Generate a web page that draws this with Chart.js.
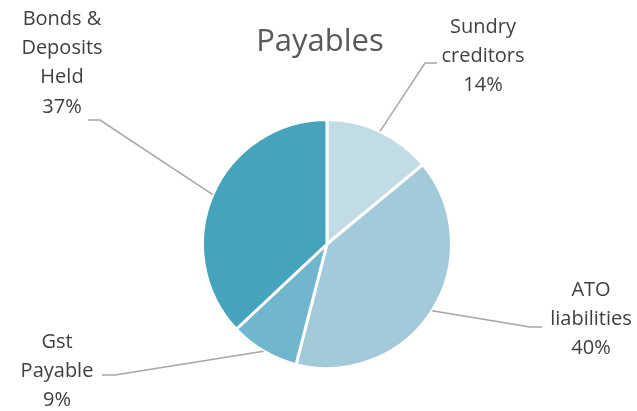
<!DOCTYPE html>
<html>
<head>
<meta charset="utf-8">
<script src="https://cdn.jsdelivr.net/npm/chart.js@4"></script>
<style>
  html, body { margin: 0; padding: 0; background: #ffffff; }
  #wrap { width: 637px; height: 411px; position: relative; }
</style>
</head>
<body>
<div id="wrap"><canvas id="c" width="637" height="411"></canvas></div>
<script>
// ---- data ----
const chartTitle = "Payables";
const categories = ["Sundry creditors", "ATO liabilities", "Gst Payable", "Bonds & Deposits Held"];
const labelLines = [["Sundry", "creditors"], ["ATO", "liabilities"], ["Gst", "Payable"], ["Bonds &", "Deposits", "Held"]];
const values = [14, 40, 9, 37];
const sliceColors = ["#C2DCE5", "#A2CAD9", "#70B6CC", "#45A4BC"];

// ---- label layout (text block center x, first line center y, leader elbow, leader end) ----
const labelLayout = [
  { cx: 483, y0: 27,  elbow: [425, 63],  end: [437, 63] },
  { cx: 591, y0: 290, elbow: [530, 327], end: [542, 327] },
  { cx: 57,  y0: 342, elbow: [115, 375], end: [102, 375] },
  { cx: 62,  y0: 19,  elbow: [100, 120], end: [88, 120] }
];

const labelPlugin = {
  id: 'pieLabels',
  afterDraw(chart) {
    const ctx = chart.ctx;
    const meta = chart.getDatasetMeta(0);
    const total = values.reduce((a, b) => a + b, 0);
    ctx.save();
    // title
    ctx.fillStyle = '#595959';
    ctx.font = '31px "Open Sans"';
    ctx.textAlign = 'center';
    ctx.textBaseline = 'middle';
    ctx.fillText(chartTitle, 320, 42);
    // leaders
    ctx.strokeStyle = '#A6A6A6';
    ctx.lineWidth = 1.5;
    meta.data.forEach((arc, i) => {
      const a = (arc.startAngle + arc.endAngle) / 2;
      const r = arc.outerRadius;
      const sx = arc.x + Math.cos(a) * r;
      const sy = arc.y + Math.sin(a) * r;
      const L = labelLayout[i];
      ctx.beginPath();
      ctx.moveTo(sx, sy);
      ctx.lineTo(L.elbow[0], L.elbow[1]);
      ctx.lineTo(L.end[0], L.end[1]);
      ctx.stroke();
    });
    // texts
    ctx.fillStyle = '#404040';
    ctx.font = '20px "Open Sans"';
    const lh = 29.3;
    meta.data.forEach((arc, i) => {
      const L = labelLayout[i];
      const lines = labelLines[i].concat([Math.round(values[i] / total * 100) + '%']);
      lines.forEach((t, k) => ctx.fillText(t, L.cx, L.y0 + k * lh));
    });
    ctx.restore();
  }
};

new Chart(document.getElementById('c'), {
  type: 'pie',
  data: {
    labels: categories,
    datasets: [{
      data: values,
      backgroundColor: sliceColors,
      borderColor: '#ffffff',
      borderWidth: 3
    }]
  },
  options: {
    responsive: false,
    animation: false,
    layout: { padding: { top: 118, bottom: 41, left: 201, right: 184 } },
    plugins: {
      legend: { display: false },
      title: { display: false },
      tooltip: { enabled: false }
    }
  },
  plugins: [labelPlugin]
});
</script>
</body>
</html>
